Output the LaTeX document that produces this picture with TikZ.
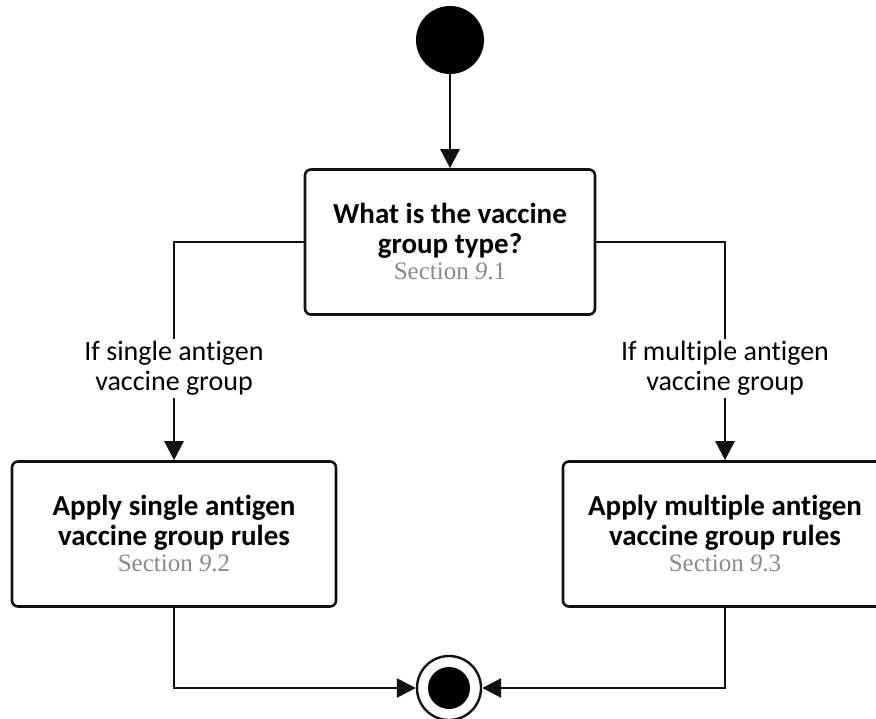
\documentclass[tikz,border=0pt]{standalone}
\usepackage{fontspec}
\setmainfont{Carlito}[Ligatures=NoCommon]
\newfontfamily\secFont{Liberation Serif}
\usetikzlibrary{arrows.meta,positioning,calc}
\definecolor{lineC}{HTML}{111111}
\definecolor{secC} {HTML}{8A8A8A}
\newcommand{\secRef}[1]{\\[-4pt]{\secFont\fontsize{25}{28}\selectfont\mdseries\color{secC}Section \textit{9}.#1}}
\tikzset{
  >={Triangle[length=19pt,width=19pt]},
  actBox/.style={draw=lineC,line width=2.6pt,rounded corners=6pt,fill=white,
    align=center,font=\fontsize{29}{30}\selectfont\bfseries,minimum height=145pt},
  flow/.style={->,draw=lineC,line width=2.6pt},
  guardText/.style={align=center,font=\fontsize{28}{30}\selectfont,fill=white,inner sep=2pt},
}

\begin{document}
\begin{tikzpicture}[x=1pt,y=-1pt]
\useasboundingbox (0,0) rectangle (876,719);
% initial and final states
\node[circle,fill=black,minimum size=68pt,inner sep=0] (start) at (450,40) {};
\node[circle,draw=lineC,line width=2.4pt,minimum size=64pt,inner sep=0] (end) at (449,688) {};
\node[circle,fill=black,minimum size=42pt,inner sep=0] (endDot) at (end) {};
% activities
\node[actBox,minimum width=290pt] (groupType) at (450,242) {%
  What is the vaccine\\group type?\secRef{1}};
\node[actBox,minimum width=324pt] (singleRules) at (174,534) {%
  Apply single antigen\\vaccine group rules\secRef{2}};
\node[actBox,minimum width=324pt] (multiRules) at (725,534) {%
  Apply multiple antigen\\vaccine group rules\secRef{3}};
% flows
\draw[flow] (start) -- (groupType);
\draw[flow] (groupType.west) -| node[guardText,pos=0.79] {If single antigen\\vaccine group} (singleRules.north);
\draw[flow] (groupType.east) -| node[guardText,pos=0.79] {If multiple antigen\\vaccine group} (multiRules.north);
\draw[flow] (singleRules.south) |- (end.west);
\draw[flow] (multiRules.south) |- (end.east);
\end{tikzpicture}
\end{document}
